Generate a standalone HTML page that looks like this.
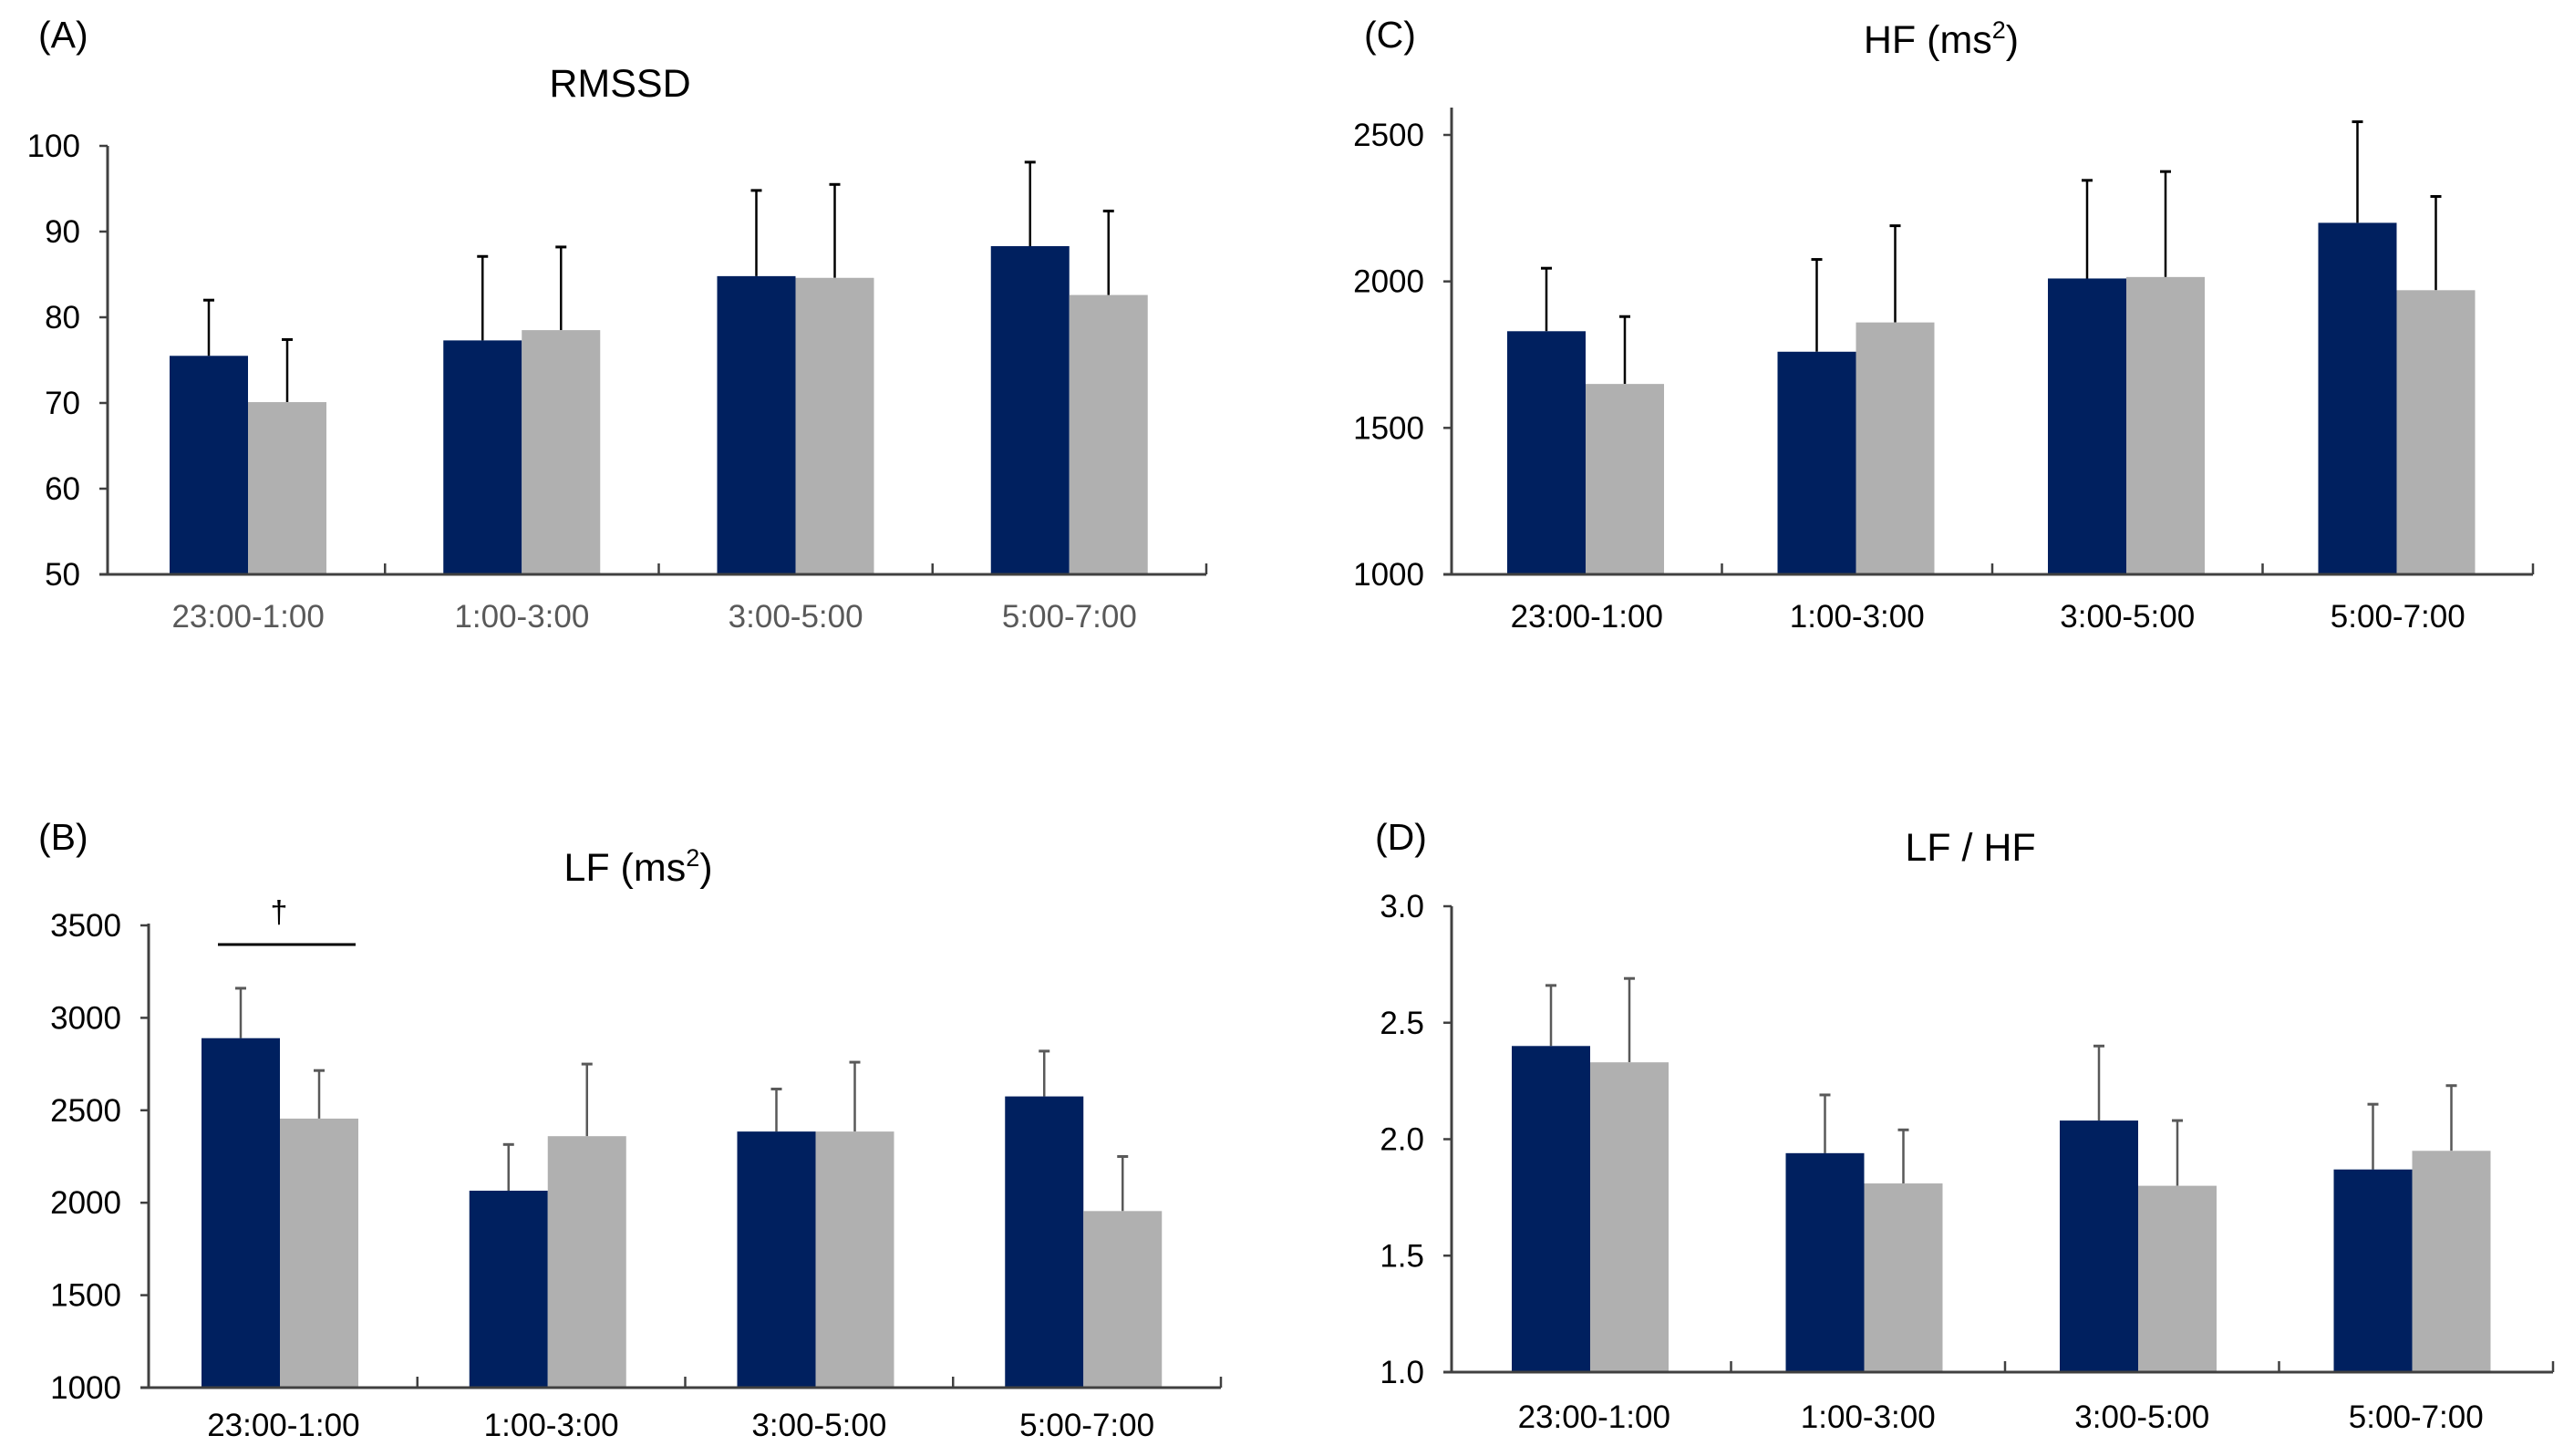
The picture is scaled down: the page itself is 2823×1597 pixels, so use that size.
<!DOCTYPE html>
<html><head><meta charset="utf-8"><style>
html,body{margin:0;padding:0;background:#fff}
svg{display:block;font-family:"Liberation Sans",Arial,sans-serif}
</style></head><body>
<svg id="fig" width="2823" height="1597" viewBox="0 0 2823 1597" xmlns="http://www.w3.org/2000/svg">
<rect width="2823" height="1597" fill="#fff"/>
</svg>
<script>
const categories = ["23:00-1:00","1:00-3:00","3:00-5:00","5:00-7:00"];
const rmssdNavy = [75.5,77.3,84.8,88.3];
const rmssdGray = [70.1,78.5,84.6,82.6];
const rmssdNavyErr = [82,87.1,94.8,98.1];
const rmssdGrayErr = [77.4,88.2,95.5,92.4];
const rmssdTicks = [50,60,70,80,90,100];
const lfNavy = [2890,2065,2385,2575];
const lfGray = [2455,2360,2385,1955];
const lfNavyErr = [3160,2315,2615,2820];
const lfGrayErr = [2715,2750,2760,2250];
const lfTicks = [1000,1500,2000,2500,3000,3500];
const hfNavy = [1830,1760,2010,2200];
const hfGray = [1650,1860,2015,1970];
const hfNavyErr = [2045,2075,2345,2545];
const hfGrayErr = [1880,2190,2375,2290];
const hfTicks = [1000,1500,2000,2500];
const ratioNavy = [2.40,1.94,2.08,1.87];
const ratioGray = [2.33,1.81,1.80,1.95];
const ratioNavyErr = [2.66,2.19,2.40,2.15];
const ratioGrayErr = [2.69,2.04,2.08,2.23];
const ratioTicks = ["1.0","1.5","2.0","2.5","3.0"];

const NS="http://www.w3.org/2000/svg";
const svg=document.getElementById('fig');
function mk(tag,attrs,parent){const e=document.createElementNS(NS,tag);for(const k in attrs)e.setAttribute(k,attrs[k]);(parent||svg).appendChild(e);return e;}

function panel(cfg){
  const g=mk('g',{});
  
  
  const ticks=cfg.ticks.map(Number);
  const vmin=ticks[0], vmax=ticks[ticks.length-1];
  const y=v=>cfg.yBottom-(v-vmin)/(vmax-vmin)*(cfg.yBottom-cfg.yTop);
  const cw=(cfg.right-cfg.left)/categories.length;
  const pl=mk('text',{x:cfg.letterX,y:cfg.letterY,'font-size':41,fill:'#000'},g);
  pl.textContent=cfg.letter;
  
  
  const t=mk('text',{x:cfg.titleX,y:cfg.titleY,'font-size':43,'text-anchor':'middle',fill:'#000'},g);
  t.innerHTML=cfg.title;
  
  
  const series=[[cfg.navy,cfg.navyErr,'#00205f',0],[cfg.gray,cfg.grayErr,'#b0b0b0',1]];
  series.forEach(([vals,errs,col,si])=>{
    vals.forEach((v,i)=>{
      const x0=cfg.left+i*cw+cfg.offset+si*cfg.bw;
      const cx=x0+cfg.bw/2;
      const el=mk('line',{x1:cx,x2:cx,y1:y(v),y2:y(errs[i]),stroke:cfg.errColor,'stroke-width':2.5},g);
      
      
      const cap=mk('line',{x1:cx-6,x2:cx+6,y1:y(errs[i]),y2:y(errs[i]),stroke:cfg.errColor,'stroke-width':3},g);
      
      
      const r=mk('rect',{x:x0,y:y(v),width:cfg.bw,height:cfg.yBottom-y(v),fill:col},g);
      
      
    });
  });
  const ya=mk('line',{x1:cfg.axisX,x2:cfg.axisX,y1:cfg.axisTop,y2:cfg.yBottom,stroke:'#404040','stroke-width':3},g);
  
  
  const xa=mk('line',{x1:cfg.axisX-9,x2:cfg.right,y1:cfg.yBottom,y2:cfg.yBottom,stroke:'#404040','stroke-width':3},g);
  
  
  cfg.ticks.forEach(tk=>{
    const yy=y(Number(tk));
    const tl=mk('line',{x1:cfg.axisX-9,x2:cfg.axisX,y1:yy,y2:yy,stroke:'#404040','stroke-width':2.5},g);
    
    
    const tx=mk('text',{x:cfg.axisX-30,y:yy+12,'font-size':35,'text-anchor':'end',fill:'#000'},g);
    tx.textContent=tk;
    
    
  });
  categories.forEach((c,i)=>{
    const xx=cfg.left+(i+1)*cw;
    const tl=mk('line',{x1:xx,x2:xx,y1:cfg.yBottom,y2:cfg.yBottom-12,stroke:'#404040','stroke-width':2.5},g);
    
    
    const tx=mk('text',{x:cfg.left+(i+0.5)*cw,y:cfg.catY,'font-size':35,'text-anchor':'middle',fill:cfg.catColor},g);
    tx.textContent=c;
    
    
  });
  return {g,y};
}

panel({name:'panel-a-rmssd',letter:'(A)',letterX:42,letterY:52,title:'RMSSD',titleX:680,titleY:106,
  axisX:118,left:122,right:1323,yTop:160,yBottom:630,axisTop:160,ticks:rmssdTicks,offset:64,bw:86,
  navy:rmssdNavy,gray:rmssdGray,navyErr:rmssdNavyErr,grayErr:rmssdGrayErr,errColor:'#000',catY:688,catColor:'#595959'});
panel({name:'panel-b-lf',letter:'(B)',letterX:42,letterY:932,title:'LF (ms<tspan font-size="27" dy="-16">2</tspan><tspan dy="16">)</tspan>',titleX:700,titleY:966,
  axisX:163,left:164,right:1339,yTop:1015,yBottom:1522,axisTop:1013,ticks:lfTicks,offset:57,bw:86,
  navy:lfNavy,gray:lfGray,navyErr:lfNavyErr,grayErr:lfGrayErr,errColor:'#595959',catY:1575,catColor:'#000'});
const sig=mk('line',{x1:239,x2:390,y1:1036,y2:1036,stroke:'#000','stroke-width':3});


const dag=mk('text',{x:306,y:1012,'font-size':34,'text-anchor':'middle',fill:'#000'});
dag.textContent='†';


panel({name:'panel-c-hf',letter:'(C)',letterX:1496,letterY:52,title:'HF (ms<tspan font-size="27" dy="-16">2</tspan><tspan dy="16">)</tspan>',titleX:2129,titleY:58,
  axisX:1592,left:1592,right:2778,yTop:148,yBottom:630,axisTop:118,ticks:hfTicks,offset:61,bw:86,
  navy:hfNavy,gray:hfGray,navyErr:hfNavyErr,grayErr:hfGrayErr,errColor:'#000',catY:688,catColor:'#000'});
panel({name:'panel-d-lf-hf',letter:'(D)',letterX:1508,letterY:932,title:'LF / HF',titleX:2161,titleY:944,
  axisX:1592,left:1598,right:2800,yTop:994,yBottom:1505,axisTop:994,ticks:ratioTicks,offset:60,bw:86,
  navy:ratioNavy,gray:ratioGray,navyErr:ratioNavyErr,grayErr:ratioGrayErr,errColor:'#595959',catY:1566,catColor:'#000'});
</script>
</body></html>
